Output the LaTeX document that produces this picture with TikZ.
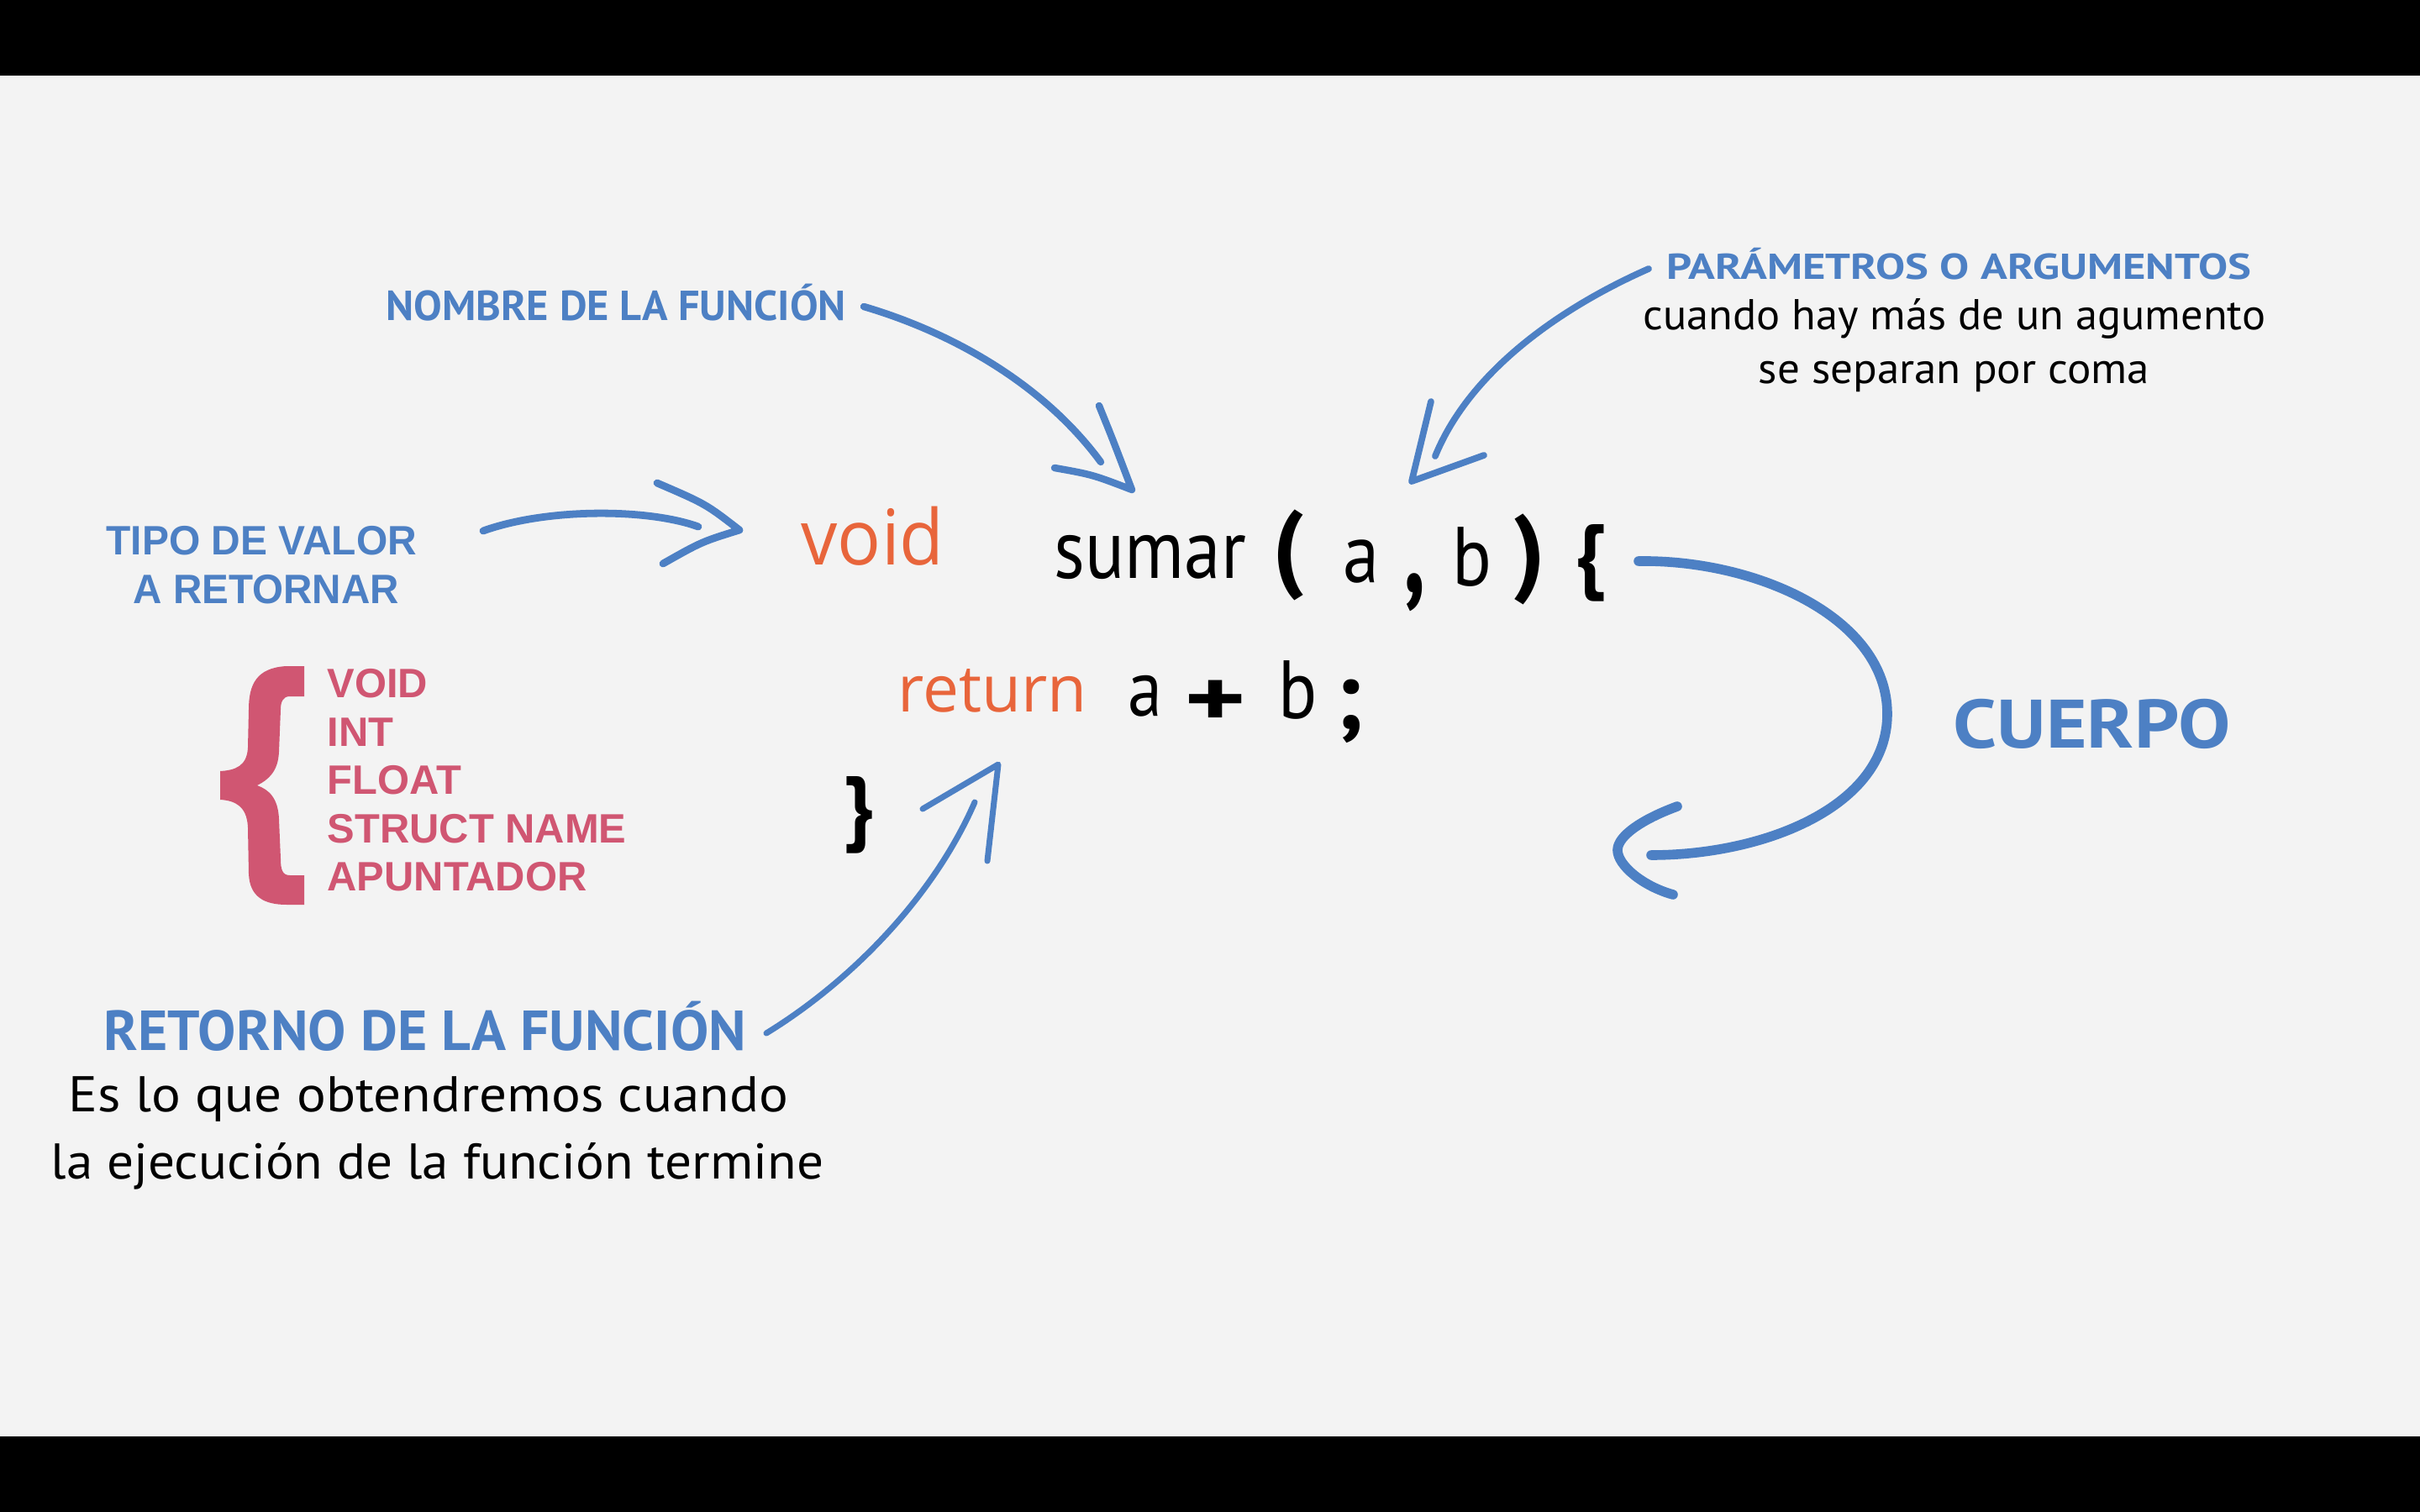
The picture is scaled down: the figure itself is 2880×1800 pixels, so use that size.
\documentclass[tikz,border=0pt]{standalone}
\usepackage{fontspec}
\usepackage{graphicx}
\newfontfamily\hfont{PT Sans}[FakeStretch=0.87]
\newfontfamily\hdfont{PT Sans}
\newfontfamily\ofont{Open Sans}
\newfontfamily\afont{Liberation Sans}
\definecolor{cblue}{HTML}{4D80C4}
\definecolor{corange}{HTML}{E8653B}
\definecolor{cpink}{HTML}{D05672}
\definecolor{cpaper}{HTML}{F3F3F3}
\newsavebox\fitbox
\newlength\fitlen
\newcommand\fitw[2]{\sbox\fitbox{#2}\setlength\fitlen{\wd\fitbox}\pgfmathsetmacro\fitrat{(#1)/\fitlen}\scalebox{\fitrat}[1]{\usebox\fitbox}}
\tikzset{
  lbl/.style={inner sep=0pt, anchor=base west},
  glyph/.style={inner sep=0pt},
  arr/.style={draw=cblue, line cap=round, line join=round, line width=#1},
  arr/.default=2.4pt
}
\begin{document}
\begin{tikzpicture}[x=0.01cm,y=-0.01cm]
\useasboundingbox (0,0) rectangle (2880,1800);
\fill[black] (0,0) rectangle (2880,1800);
\fill[cpaper] (0,90) rectangle (2880,1710);

% --- labels ---
\node[lbl,text=cblue] (nombre) at (459,382) {\fitw{54.7mm}{\hdfont\bfseries\fontsize{14.2}{16}\selectfont NOMBRE DE LA FUNCIÓN}};
\node[lbl,text=cblue] (param) at (1983,333) {\fitw{69.5mm}{\hdfont\bfseries\fontsize{12.2}{14}\selectfont PARÁMETROS O ARGUMENTOS}};
\node[lbl] (cuando) at (1955,393) {\fitw{74.0mm}{\hdfont\fontsize{14.6}{16}\selectfont cuando hay más de un agumento}};
\node[lbl] (sesep) at (2092,457) {\fitw{46.5mm}{\hdfont\fontsize{14.6}{16}\selectfont se separan por coma}};
\node[lbl,text=cblue] (tipo1) at (126,660) {\fitw{36.9mm}{\afont\bfseries\fontsize{13.9}{16}\selectfont TIPO DE VALOR}};
\node[lbl,text=cblue] (tipo2) at (158,718) {\fitw{31.6mm}{\afont\bfseries\fontsize{13.9}{16}\selectfont A RETORNAR}};

% --- code ---
\node[lbl,text=corange] (void) at (953,672) {\fitw{17.0mm}{\ofont\fontsize{26}{30}\selectfont void}};
\node[lbl] (sumar) at (1254,688) {\fitw{22.8mm}{\hdfont\fontsize{28.4}{32}\selectfont sumar}};
\node[glyph] (lpar) at (1533,661) {\hdfont\bfseries\fontsize{33}{36}\selectfont (};
\node[lbl] (pa) at (1598,693) {\hfont\fontsize{28.4}{32}\selectfont a};
\node[glyph] (coma) at (1684,705) {\scalebox{1}[1.5]{\hdfont\bfseries\fontsize{30}{36}\selectfont ,}};
\node[lbl] (pb) at (1728,697) {\hfont\fontsize{28.4}{32}\selectfont b};
\node[glyph] (rpar) at (1820,666) {\hdfont\bfseries\fontsize{33}{36}\selectfont )};
\node[glyph] (lbrace) at (1893,670) {\hdfont\bfseries\fontsize{28}{32}\selectfont \{};

\node[lbl,text=corange] (ret) at (1068,847) {\fitw{22.5mm}{\ofont\fontsize{22}{26}\selectfont return}};
\node[lbl] (ra) at (1342,852) {\hfont\fontsize{27}{30}\selectfont a};
\node[glyph] (plus) at (1447,838) {\scalebox{1}[0.7]{\hdfont\bfseries\fontsize{40}{44}\selectfont +}};
\node[lbl] (rb) at (1521,855) {\hfont\fontsize{28}{30}\selectfont b};
\node[glyph] (semi) at (1606,847) {\hdfont\bfseries\fontsize{33}{36}\selectfont ;};
\node[glyph] (rbrace) at (1023,970) {\hdfont\bfseries\fontsize{28}{32}\selectfont \}};

% --- pink brace and list ---
\fill[cpink] (362,793) -- (341,793) .. controls (305,795) and (296,815) .. (296,845)
  -- (295,890) .. controls (294,912) and (280,917) .. (262,918) -- (262,952)
  .. controls (280,953) and (294,960) .. (295,985) -- (296,1040)
  .. controls (297,1068) and (315,1077) .. (341,1077) -- (362,1077) -- (362,1042)
  -- (345,1042) .. controls (336,1042) and (334,1035) .. (334,1022) -- (332,975)
  .. controls (331,950) and (320,940) .. (306,935) .. controls (320,928) and (331,918) .. (332,895)
  -- (334,845) .. controls (334,835) and (337,829) .. (345,829) -- (362,829) -- cycle;
\node[lbl,text=cpink] (l1) at (389,830) {\afont\bfseries\fontsize{13.9}{16}\selectfont VOID};
\node[lbl,text=cpink] (l2) at (389,888) {\afont\bfseries\fontsize{13.9}{16}\selectfont INT};
\node[lbl,text=cpink] (l3) at (389,945) {\afont\bfseries\fontsize{13.9}{16}\selectfont FLOAT};
\node[lbl,text=cpink] (l4) at (389,1003) {\afont\bfseries\fontsize{13.9}{16}\selectfont STRUCT NAME};
\node[lbl,text=cpink] (l5) at (389,1060) {\afont\bfseries\fontsize{13.9}{16}\selectfont APUNTADOR};

% --- bottom-left and right labels ---
\node[lbl,text=cblue] (retorno) at (123,1250) {\fitw{76.4mm}{\hdfont\bfseries\fontsize{19.1}{22}\selectfont RETORNO DE LA FUNCIÓN}};
\node[lbl] (es) at (81,1323) {\fitw{85.6mm}{\hdfont\fontsize{17}{20}\selectfont Es lo que obtendremos cuando}};
\node[lbl] (laej) at (60,1403) {\fitw{91.9mm}{\hdfont\fontsize{17}{20}\selectfont la ejecución de la función termine}};
\node[lbl,text=cblue] (cuerpo) at (2324,890) {\fitw{33.0mm}{\hdfont\bfseries\fontsize{23.2}{26}\selectfont CUERPO}};

% --- arrow coordinates ---
\coordinate (a1s) at (1028,365);
\coordinate (a1e) at (1310,550);
\coordinate (a1u) at (1308,483);
\coordinate (a1t) at (1347,583);
\coordinate (a1v) at (1255,557);

\coordinate (a2s) at (1962,320);
\coordinate (a2e) at (1708,543);
\coordinate (a2u) at (1703,478);
\coordinate (a2t) at (1680,573);
\coordinate (a2v) at (1766,542);

\coordinate (a3s) at (575,632);
\coordinate (a3e) at (831,627);
\coordinate (a3u) at (782,575);
\coordinate (a3t) at (880,631);
\coordinate (a3v) at (789,671);

\coordinate (a4s) at (912,1230);
\coordinate (a4e) at (1160,955);
\coordinate (a4u) at (1098,963);
\coordinate (a4t) at (1188,910);
\coordinate (a4v) at (1175,1025);

\coordinate (a5s) at (1950,668);
\coordinate (a5m) at (2246,850);
\coordinate (a5e) at (1965,1018);
\coordinate (a5u) at (1996,960);
\coordinate (a5t) at (1925,1012);
\coordinate (a5v) at (1991,1065);

% --- arrows ---
\draw[arr=2.4pt] (a1s) .. controls (1130,395) and (1240,455) .. (a1e);
\draw[arr=2.4pt] (a1u) .. controls (1325,525) .. (a1t) .. controls (1300,565) .. (a1v);

\draw[arr=2.2pt] (a2s) .. controls (1860,365) and (1750,440) .. (a2e);
\draw[arr=2.2pt] (a2u) -- (a2t) -- (a2v);

\draw[arr=2.5pt] (a3s) .. controls (650,605) and (770,605) .. (a3e);
\draw[arr=2.5pt] (a3u) .. controls (840,600) .. (a3t) .. controls (835,645) .. (a3v);

\draw[arr=2.0pt] (a4s) .. controls (1010,1170) and (1110,1070) .. (a4e);
\draw[arr=2.0pt] (a4u) -- (a4t) -- (a4v);

\draw[arr=3.3pt] (a5s) .. controls (2090,666) and (2246,735) .. (a5m) .. controls (2246,960) and (2100,1018) .. (a5e);
\draw[arr=3.3pt] (a5u) .. controls (1955,975) and (1925,995) .. (a5t) .. controls (1925,1030) and (1955,1055) .. (a5v);
\end{tikzpicture}
\end{document}
